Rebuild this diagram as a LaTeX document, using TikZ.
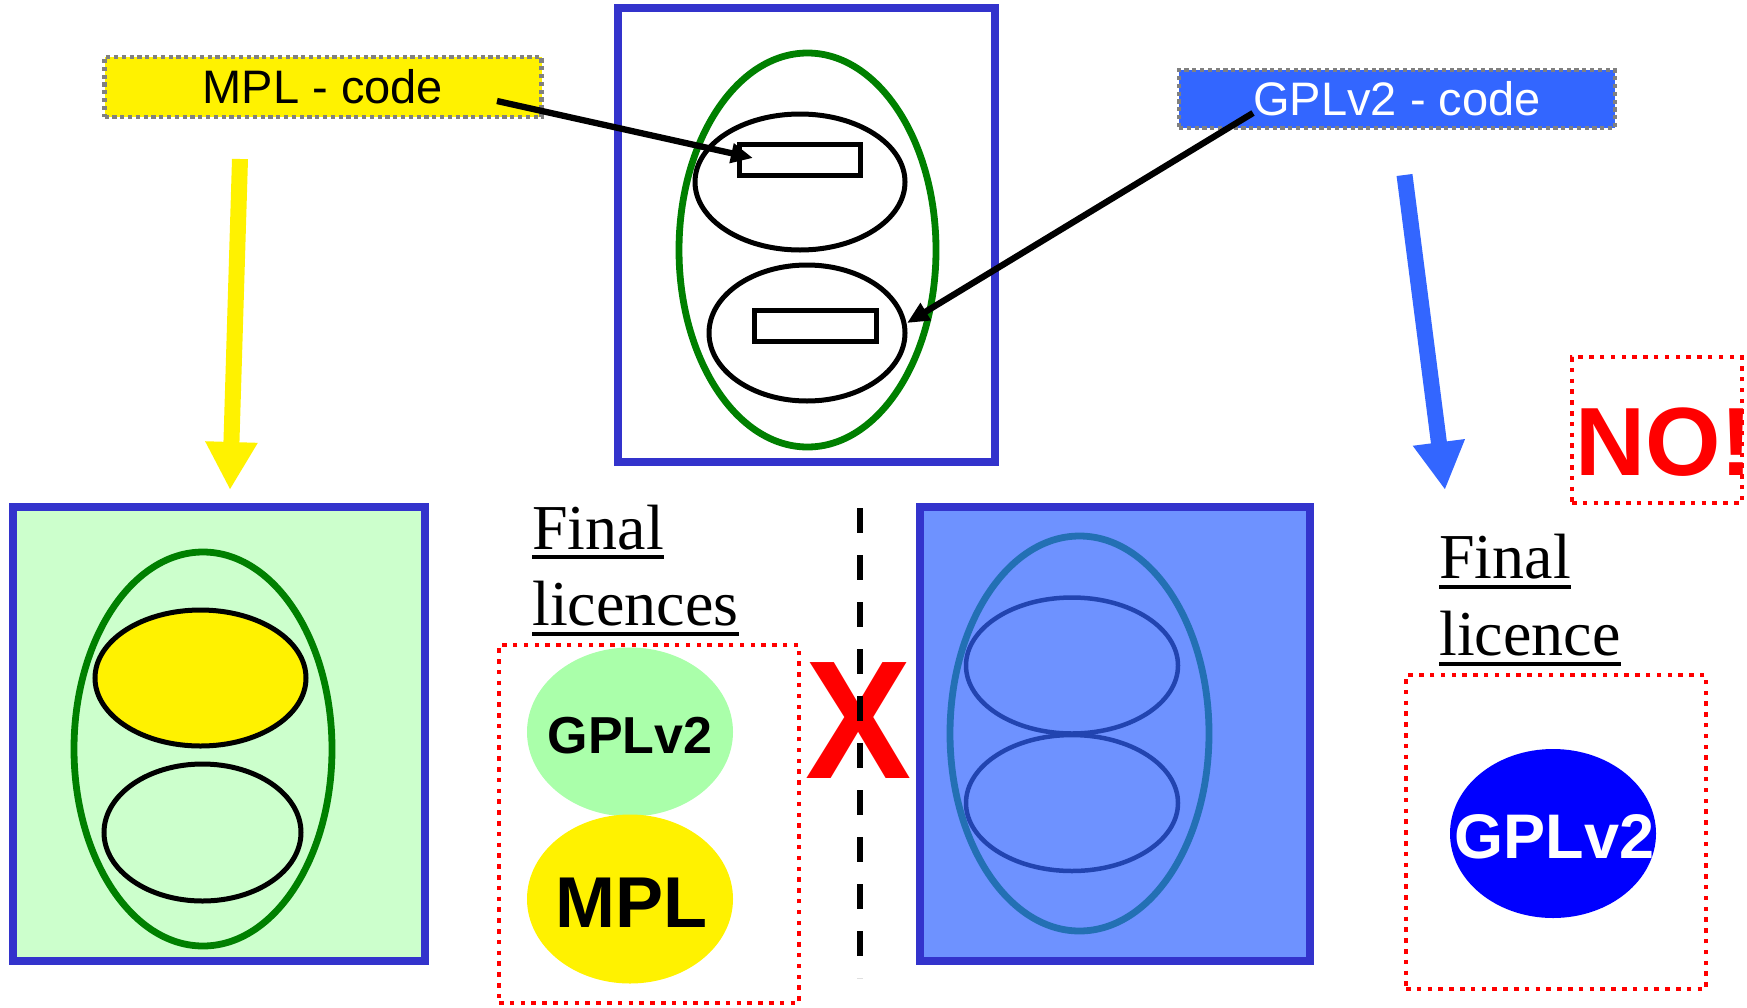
\documentclass[tikz,border=0pt]{standalone}
\usepackage{fontspec}
\setmainfont{Liberation Serif}
\newfontfamily\arialf{Liberation Sans}
\usetikzlibrary{shapes.geometric,arrows.meta}
\definecolor{frameblue}{RGB}{51,51,204}
\definecolor{codeblue}{RGB}{51,102,255}
\definecolor{darkgreen}{RGB}{0,128,0}
\definecolor{lightgreen}{RGB}{204,255,204}
\definecolor{palegreen}{RGB}{170,255,170}
\definecolor{midblue}{RGB}{110,146,255}
\definecolor{tealblue}{RGB}{35,112,180}
\definecolor{innerblue}{RGB}{34,68,176}
\definecolor{dotgray}{RGB}{128,128,128}
\begin{document}
\begin{tikzpicture}[x=1pt,y=-1pt,
  frame/.style={draw=frameblue, line width=7.3pt, rectangle, inner sep=0pt},
  outerell/.style={draw=darkgreen, line width=6.8pt, ellipse, inner sep=0pt},
  innerell/.style={draw=black, line width=5pt, ellipse, inner sep=0pt},
  coderect/.style={draw=black, line width=5pt, rectangle, fill=white, inner sep=0pt},
  codelabel/.style={rectangle, draw=dotgray, line width=4.2pt, dash pattern=on 4.2pt off 3.6pt, inner sep=0pt, font=\arialf\fontsize{47}{50}\selectfont},
  reddots/.style={rectangle, draw=red, line width=4.8pt, dash pattern=on 4.5pt off 6.3pt, inner sep=0pt},
  licell/.style={ellipse, inner sep=0pt, minimum width=206pt, minimum height=169pt},
  finaltext/.style={anchor=base west, inner sep=0pt, font=\fontsize{64}{70}\selectfont},
  uline/.style={line width=4pt},
  thinarrow/.style={line width=6.3pt, -{Triangle[length=22pt,width=19pt]}},
  bigarrow/.style={line width=16pt, -{Triangle[length=48pt,width=49pt]}}
]
\useasboundingbox (0,0) rectangle (1747,1007);
\clip (0,0) rectangle (1747,1007);

% ---------- top centre diagram ----------
\node[frame, minimum width=377pt, minimum height=454pt] (topbox) at (806.5,235) {};
\node[outerell, minimum width=257pt, minimum height=394pt] (topouter) at (807.5,250) {};
\node[innerell, minimum width=210pt, minimum height=136pt] (topup) at (800,182) {};
\node[innerell, minimum width=196pt, minimum height=136pt] (toplow) at (807,333) {};
\node[coderect, minimum width=121pt, minimum height=31pt] (rectup) at (799.5,159.5) {};
\node[coderect, minimum width=122pt, minimum height=31pt] (rectlow) at (815,325.5) {};

% ---------- code labels ----------
\node[codelabel, fill=yellow, text=black, minimum width=437pt, minimum height=60pt] (mplcode) at (323,87) {MPL - code};
\node[codelabel, fill=codeblue, text=white, minimum width=436pt, minimum height=58pt] (gplcode) at (1397,99) {GPLv2 - code};

\coordinate (mplfrom) at (497,101);
\coordinate (mplto) at (753,158);
\coordinate (gplfrom) at (1253,113);
\coordinate (gplto) at (907,323);
\draw[thinarrow] (mplfrom) -- (mplto);
\draw[thinarrow] (gplfrom) -- (gplto);

% ---------- big arrows ----------
\coordinate (yfrom) at (240,159);
\coordinate (yto) at (230,490);
\coordinate (bfrom) at (1404.5,175);
\coordinate (bto) at (1445,490);
\draw[bigarrow, yellow] (yfrom) -- (yto);
\draw[bigarrow, codeblue] (bfrom) -- (bto);

% ---------- left result ----------
\node[frame, fill=lightgreen, minimum width=412pt, minimum height=454pt] (leftbox) at (219,734) {};
\node[outerell, minimum width=258pt, minimum height=394pt] (leftouter) at (203,749) {};
\node[innerell, fill=yellow, minimum width=211pt, minimum height=136pt] (leftup) at (200.5,678) {};
\node[innerell, minimum width=197pt, minimum height=137pt] (leftlow) at (202.5,832.5) {};

% ---------- middle: final licences ----------
\node[finaltext] (fin1) at (532,549) {Final};
\node[finaltext] (lic1) at (532,625) {licences};
\draw[uline] ([yshift=-8pt]fin1.base west) -- ([yshift=-8pt]fin1.base east);
\draw[uline] ([yshift=-9pt]lic1.base west) -- ([yshift=-9pt]lic1.base east);
\node[reddots, minimum width=300pt, minimum height=358pt] (midlic) at (649,824) {};
\node[licell, fill=palegreen] (gplell) at (630,732) {};
\node[licell, fill=yellow] (mplell) at (630,899) {};
\node[anchor=base, inner sep=0pt, font=\arialf\bfseries\fontsize{52}{56}\selectfont] (gpltxt) at (630,753) {GPLv2};
\node[anchor=base, inner sep=0pt, font=\arialf\bfseries\fontsize{72}{76}\selectfont] (mpltxt) at (631.5,927) {MPL};

% ---------- X and divider ----------
\node[anchor=base, inner sep=0pt, text=red, font=\arialf\bfseries\fontsize{159}{165}\selectfont] (cross) at (859,778) {\scalebox{1}[1.06]{X}};
\coordinate (dtop) at (860,508);
\coordinate (dbot) at (860,978);
\draw[line width=6pt, dash pattern=on 25pt off 22pt] (dtop) -- (dbot);

% ---------- right result ----------
\node[frame, fill=midblue, minimum width=390pt, minimum height=454pt] (rightbox) at (1115,734) {};
\node[ellipse, draw=tealblue, line width=6.8pt, inner sep=0pt, minimum width=259pt, minimum height=395pt] (rightouter) at (1079.5,733.5) {};
\node[ellipse, draw=innerblue, line width=4.5pt, inner sep=0pt, minimum width=212pt, minimum height=136pt] (rightup) at (1072,665.5) {};
\node[ellipse, draw=innerblue, line width=4.5pt, inner sep=0pt, minimum width=212pt, minimum height=136pt] (rightlow) at (1072,803) {};

% ---------- far right: final licence ----------
\node[reddots, minimum width=170pt, minimum height=146pt] (nobox) at (1657,430) {};
\node[anchor=base west, inner sep=0pt, text=red, font=\arialf\bfseries\fontsize{97}{100}\selectfont] (notxt) at (1575,475) {NO!};
\node[finaltext] (fin2) at (1439,578) {Final};
\node[finaltext] (lic2) at (1439,655) {licence};
\draw[uline] ([yshift=-9pt]fin2.base west) -- ([yshift=-9pt]fin2.base east);
\draw[uline] ([yshift=-9pt]lic2.base west) -- ([yshift=-9pt]lic2.base east);
\node[reddots, minimum width=300pt, minimum height=314pt] (rightlic) at (1556,832) {};
\node[licell, fill=blue] (gplfinal) at (1553,833.5) {};
\node[anchor=base, inner sep=0pt, text=white, font=\arialf\bfseries\fontsize{63}{66}\selectfont] (gplfinaltxt) at (1554.5,858) {GPLv2};
\end{tikzpicture}
\end{document}
